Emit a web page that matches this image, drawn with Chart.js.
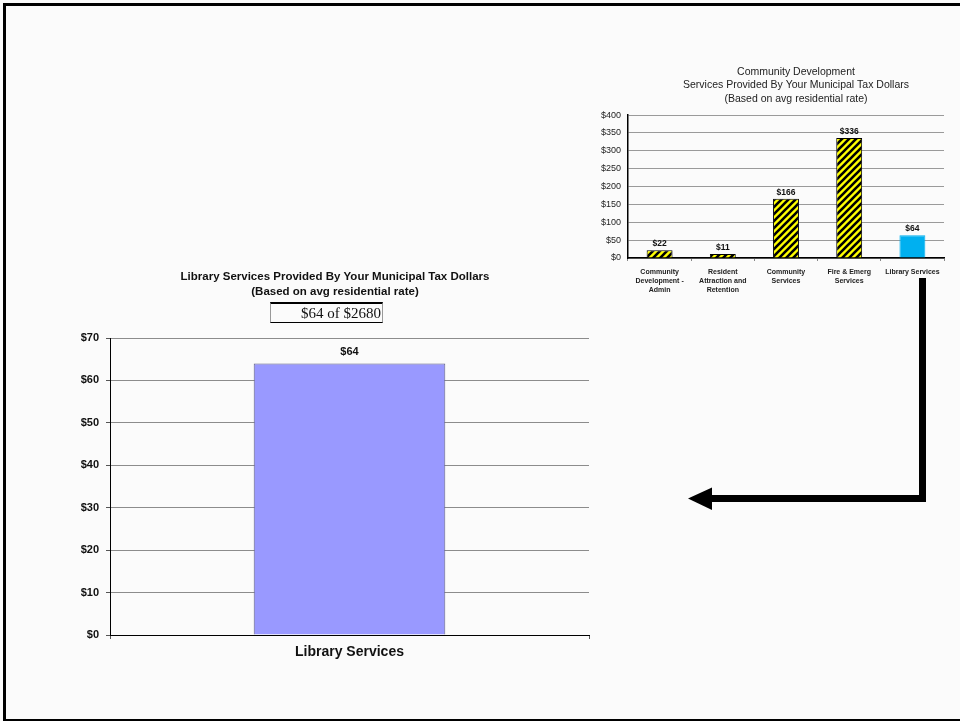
<!DOCTYPE html>
<html>
<head>
<meta charset="utf-8">
<script src="https://cdn.jsdelivr.net/npm/chart.js@4/dist/chart.umd.min.js"></script>
<style>
  html, body { margin: 0; padding: 0; width: 960px; height: 721px; overflow: hidden; background: #fbfbfb; }
  .frame { position: absolute; left: 3px; top: 3px; width: 1100px; height: 713px; border: 3px solid #000; box-sizing: content-box; }
  canvas { position: absolute; }
  #bigChart { left: 40px; top: 260px; }
  #smallChart { left: 590px; top: 55px; }
  .share {
    position: absolute; left: 270px; top: 302px; width: 110px; height: 18px;
    border-top: 2px solid #000; border-bottom: 1px solid #000;
    border-left: 1px solid #999; border-right: 1px solid #999;
    font-family: "Liberation Serif", "Times New Roman", serif; font-size: 15px; line-height: 18px;
    text-align: right; padding-right: 1px; box-sizing: content-box; color: #111;
  }
  svg { position: absolute; left: 0; top: 0; }
</style>
</head>
<body>
<div class="frame"></div>
<canvas id="smallChart" width="410" height="250"></canvas>
<canvas id="bigChart" width="580" height="420"></canvas>
<div class="share" id="share"></div>
<svg width="960" height="721">
  <polyline points="922.5,278 922.5,498.5 711,498.5" fill="none" stroke="#000" stroke-width="7" stroke-linejoin="miter"/>
  <polygon points="688,498.5 712,487.5 712,510" fill="#000"/>
</svg>
<script>
// Community development spending by service
const serviceCategories = [
  ['Community', 'Development -', 'Admin'],
  ['Resident', 'Attraction and', 'Retention'],
  ['Community', 'Services'],
  ['Fire & Emerg', 'Services'],
  ['Library Services']
];
const serviceValues = [22, 11, 166, 336, 64];

// Library detail
const libraryCategories = ['Library Services'];
const libraryValues = [64];
const totalTaxBill = 2680;

const smallTitle = ['Community Development', 'Services Provided By Your Municipal Tax Dollars', '(Based on avg residential rate)'];
const bigTitle = ['Library Services Provided By Your Municipal Tax Dollars', '(Based on avg residential rate)'];

const FONT = '"Liberation Sans", Arial, Helvetica, sans-serif';
Chart.defaults.font.family = FONT;
Chart.defaults.color = '#111';

document.getElementById('share').textContent = '$' + libraryValues[0] + ' of $' + totalTaxBill;

// Yellow / black diagonal hatch used for the general service bars
function makeHatch() {
  const s = 7;
  const c = document.createElement('canvas');
  c.width = s; c.height = s;
  const g = c.getContext('2d');
  g.fillStyle = '#ffff00';
  g.fillRect(0, 0, s, s);
  g.strokeStyle = '#000';
  g.lineWidth = 2.6;
  g.beginPath();
  g.moveTo(-s, s); g.lineTo(s, -s);
  g.moveTo(0, s); g.lineTo(s, 0);
  g.moveTo(0, 2 * s); g.lineTo(2 * s, 0);
  g.stroke();
  return document.createElement('canvas').getContext('2d').createPattern(c, 'repeat');
}
const hatch = makeHatch();

// Writes "$value" above each bar
const valueLabels = {
  id: 'valueLabels',
  afterDatasetsDraw(chart, args, opts) {
    const ctx = chart.ctx;
    const meta = chart.getDatasetMeta(0);
    const data = chart.data.datasets[0].data;
    ctx.save();
    ctx.font = opts.font;
    ctx.fillStyle = '#111';
    ctx.textAlign = 'center';
    ctx.textBaseline = 'middle';
    meta.data.forEach((bar, i) => {
      ctx.fillText('$' + data[i], bar.x, bar.y - opts.offset);
    });
    ctx.restore();
  }
};

// Empty right-hand axis that keeps a margin beside the plot
function spacerAxis(width) {
  return {
    position: 'right',
    display: true,
    afterFit(s) { s.width = width; },
    grid: { display: false },
    border: { display: false },
    ticks: { display: false }
  };
}

const serviceColors = serviceValues.map((v, i) => i === serviceValues.length - 1 ? '#00b0f0' : hatch);
const serviceBorders = serviceValues.map((v, i) => i === serviceValues.length - 1 ? '#00b0f0' : '#000');

new Chart(document.getElementById('smallChart'), {
  type: 'bar',
  data: {
    labels: serviceCategories,
    datasets: [{
      data: serviceValues,
      backgroundColor: serviceColors,
      borderColor: serviceBorders,
      borderWidth: 1,
      barPercentage: 0.41,
      categoryPercentage: 1
    }]
  },
  plugins: [valueLabels],
  options: {
    responsive: false,
    animation: false,
    devicePixelRatio: 1,
    layout: { padding: { left: 2, right: 0, top: 0, bottom: 2 } },
    plugins: {
      legend: { display: false },
      tooltip: { enabled: false },
      title: {
        display: true,
        text: smallTitle,
        color: '#222',
        font: { size: 10.5, weight: 'normal', lineHeight: 1.3 },
        padding: { top: 10, bottom: 9.1 }
      },
      valueLabels: { font: 'bold 8.5px ' + FONT, offset: 6 }
    },
    scales: {
      x: {
        afterFit(s) { s.height = 45; },
        grid: { display: true, drawOnChartArea: false, drawTicks: true, tickLength: 3, offset: true, tickColor: '#888' },
        border: { display: true, color: '#000', width: 1.5 },
        ticks: { font: { size: 7, weight: 'bold', lineHeight: 1.28 }, color: '#222', padding: 6.5, maxRotation: 0, autoSkip: false }
      },
      y: {
        min: 0, max: 400,
        afterFit(s) { s.width = 36; },
        grid: { color: '#9a9a9a', drawTicks: false, lineWidth: 1 },
        border: { display: true, color: '#000', width: 1.5 },
        ticks: { stepSize: 50, font: { size: 9 }, color: '#222', padding: 7, callback: v => '$' + v }
      },
      margin: spacerAxis(56)
    }
  }
});

new Chart(document.getElementById('bigChart'), {
  type: 'bar',
  data: {
    labels: libraryCategories,
    datasets: [{
      data: libraryValues,
      backgroundColor: '#9999ff',
      borderColor: '#5c5c80',
      borderWidth: 1,
      barPercentage: 0.4,
      categoryPercentage: 1
    }]
  },
  plugins: [valueLabels],
  options: {
    responsive: false,
    animation: false,
    devicePixelRatio: 1,
    layout: { padding: { left: 10, right: 0, top: 0, bottom: 5 } },
    plugins: {
      legend: { display: false },
      tooltip: { enabled: false },
      title: {
        display: true,
        text: bigTitle,
        color: '#111',
        font: { size: 11.5, weight: 'bold', lineHeight: 1.3 },
        padding: { top: 9.5, bottom: 38.6 }
      },
      valueLabels: { font: 'bold 11px ' + FONT, offset: 11.5 }
    },
    scales: {
      x: {
        afterFit(s) { s.height = 40; },
        grid: { display: true, drawOnChartArea: false, drawTicks: true, tickLength: 4, offset: true, tickColor: '#555' },
        border: { display: true, color: '#000', width: 1 },
        ticks: { font: { size: 14, weight: 'bold' }, color: '#111', padding: 5 }
      },
      y: {
        min: 0, max: 70,
        afterFit(s) { s.width = 60; },
        grid: { color: '#8c8c8c', drawTicks: true, tickLength: 4, tickColor: '#555' },
        border: { display: true, color: '#000', width: 1 },
        ticks: { stepSize: 10, font: { size: 11, weight: 'bold' }, color: '#111', padding: 7, callback: v => '$' + v }
      },
      margin: spacerAxis(31)
    }
  }
});
</script>
</body>
</html>
